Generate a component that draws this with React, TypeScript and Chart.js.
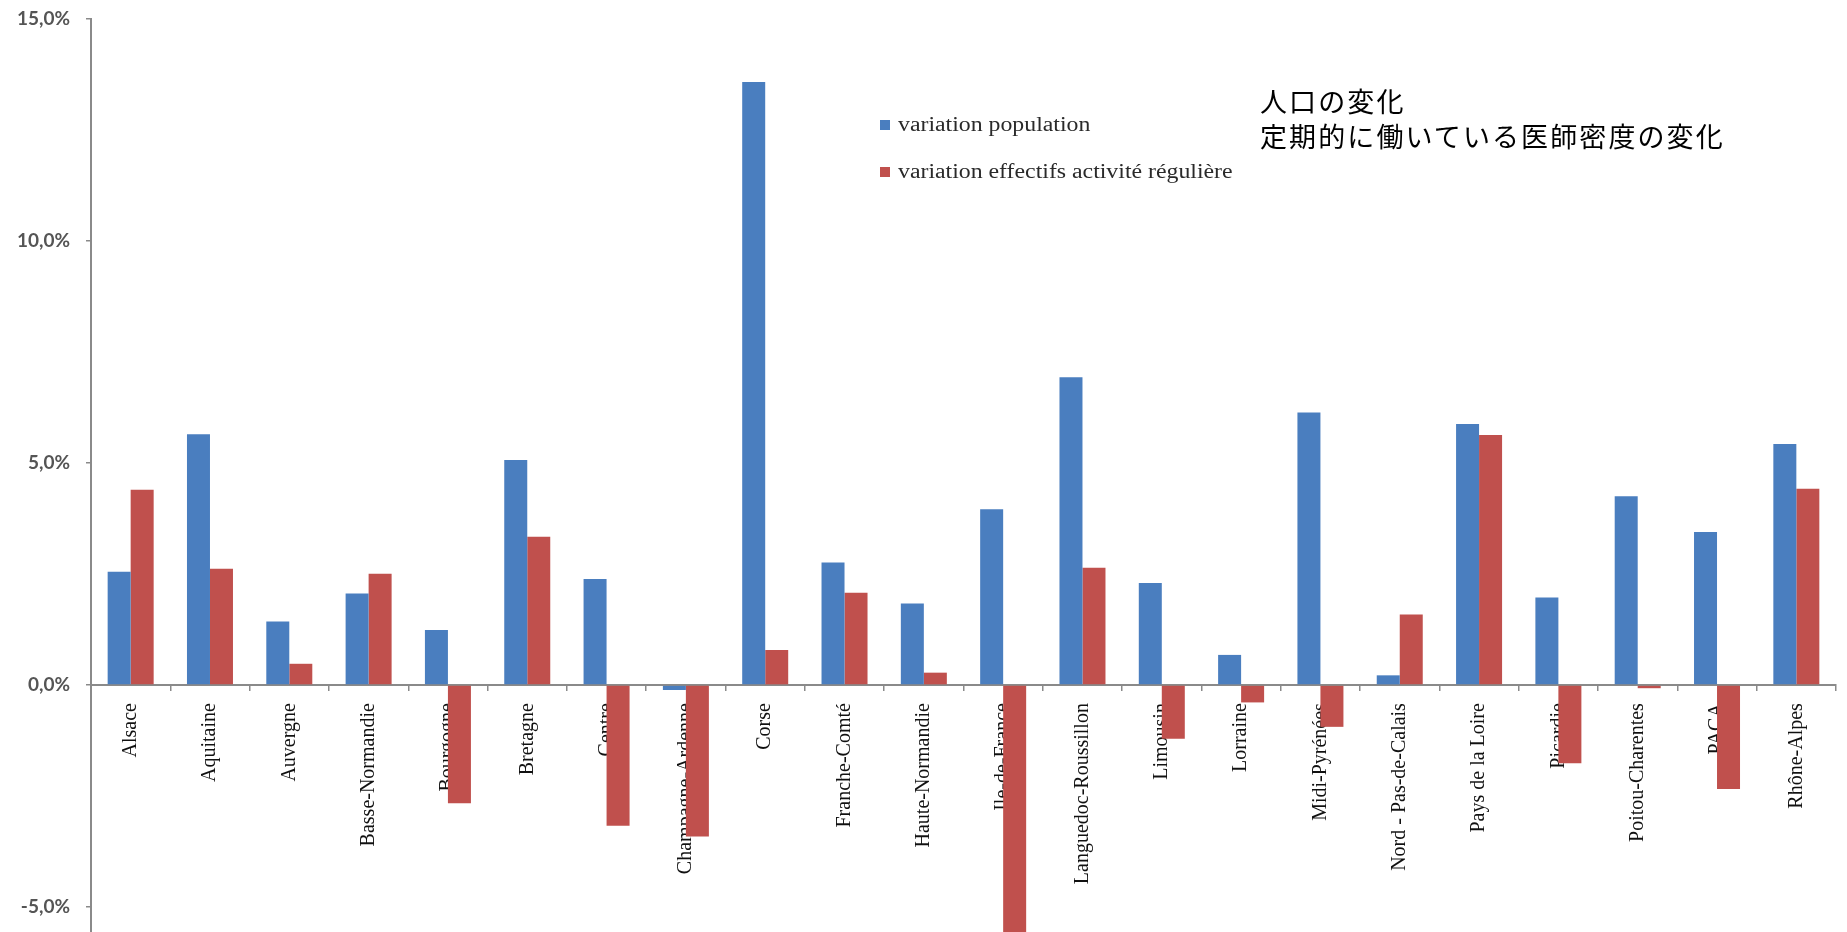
import React, { useEffect, useRef } from "react";
import { Chart, registerables } from "chart.js";

Chart.register(...registerables);

const regions: string[] = [
  "Alsace", "Aquitaine", "Auvergne", "Basse-Normandie", "Bourgogne", "Bretagne",
  "Centre", "Champagne-Ardenne", "Corse", "Franche-Comté", "Haute-Normandie",
  "Ile-de-France", "Languedoc-Roussillon", "Limousin", "Lorraine", "Midi-Pyrénées",
  "Nord - Pas-de-Calais", "Pays de la Loire", "Picardie", "Poitou-Charentes", "PACA",
  "Rhône-Alpes",
];

const variationPopulation: number[] = [
  2.55, 5.65, 1.43, 2.06, 1.24, 5.07, 2.39, -0.11, 13.58, 2.76, 1.84,
  3.96, 6.93, 2.3, 0.68, 6.14, 0.22, 5.88, 1.97, 4.25, 3.45, 5.43,
];

const variationEffectifs: number[] = [
  4.4, 2.62, 0.48, 2.51, -2.66, 3.34, -3.17, -3.41, 0.79, 2.08, 0.28,
  -6.0, 2.64, -1.21, -0.39, -0.94, 1.59, 5.63, -1.76, -0.07, -2.34, 4.42,
];

const yTickValues: number[] = [-5, 0, 5, 10, 15];

const seriesLabels: string[] = [
  "variation population",
  "variation effectifs activité régulière",
];
const japaneseLabels: string[] = ["人口の変化", "定期的に働いている医師密度の変化"];

const BLUE = "#4A7EBF";
const RED = "#C0504D";
const AXIS = "#8A8A8A";

export default function App() {
  const canvasRef = useRef<HTMLCanvasElement | null>(null);

  useEffect(() => {
    if (!canvasRef.current) return;
    const chart = new Chart(canvasRef.current, {
      type: "bar",
      data: {
        labels: regions,
        datasets: [
          {
            label: seriesLabels[0],
            data: variationPopulation,
            backgroundColor: BLUE,
            categoryPercentage: 0.58,
            barPercentage: 1.0,
          },
          {
            label: seriesLabels[1],
            data: variationEffectifs,
            backgroundColor: RED,
            categoryPercentage: 0.58,
            barPercentage: 1.0,
          },
        ],
      },
      options: {
        animation: false,
        responsive: false,
        devicePixelRatio: 1,
        layout: { padding: { top: 19, right: 11, bottom: 0, left: 0 } },
        plugins: {
          legend: { display: false },
          tooltip: { enabled: false },
        },
        scales: {
          x: {
            position: { y: 0 } as any,
            z: 1,
            grid: {
              drawOnChartArea: false,
              drawTicks: true,
              tickLength: 5,
              color: AXIS,
              lineWidth: 1.5,
              offset: true,
            },
            border: { display: true, color: AXIS, width: 2 },
            ticks: {
              autoSkip: false,
              maxRotation: 90,
              minRotation: 90,
              padding: 13,
              color: "#111",
              font: { family: "'Liberation Serif', 'DejaVu Serif', serif", size: 20 },
            },
            afterFit: (s: any) => {
              s.paddingLeft = 0;
              s.paddingRight = 0;
            },
          },
          y: {
            min: -5.56,
            max: 15,
            afterBuildTicks: (axis: any) => {
              axis.ticks = yTickValues.map((v) => ({ value: v }));
            },
            afterFit: (s: any) => {
              s.width = 91;
              s.paddingTop = 0;
              s.paddingBottom = 0;
            },
            grid: {
              drawOnChartArea: false,
              drawTicks: true,
              tickLength: 5,
              color: AXIS,
              lineWidth: 1.5,
            },
            border: { display: true, color: AXIS, width: 2 },
            ticks: {
              padding: 16,
              color: "#555555",
              font: { family: "Lato, 'Open Sans', sans-serif", size: 19, weight: "bold" },
              callback: (v: any) => Number(v).toFixed(1).replace(".", ",") + "%",
            },
          },
        },
      },
    });
    return () => chart.destroy();
  }, []);

  const legendRow = (color: string, text: string, top: number) => (
    <div
      style={{
        position: "absolute",
        left: 880,
        top,
        display: "flex",
        alignItems: "center",
        whiteSpace: "nowrap",
      }}
    >
      <div style={{ width: 10, height: 10, background: color, marginRight: 8 }} />
      <span
        style={{
          fontFamily: "'Liberation Serif', 'DejaVu Serif', serif",
          fontSize: 20,
          color: "#2a2a2a",
          display: "inline-block",
          transform: "scaleX(1.19)",
          transformOrigin: "left center",
        }}
      >
        {text}
      </span>
    </div>
  );

  return (
    <div
      style={{
        position: "absolute",
        left: 0,
        top: 0,
        width: 1847,
        height: 932,
        background: "#fff",
        overflow: "hidden",
      }}
    >
      <canvas
        ref={canvasRef}
        width={1847}
        height={932}
        style={{ width: 1847, height: 932, display: "block" }}
      />
      {legendRow(BLUE, seriesLabels[0], 113)}
      {legendRow(RED, seriesLabels[1], 160)}
      <div
        style={{
          position: "absolute",
          left: 1260,
          top: 83,
          fontFamily: "'Noto Sans CJK JP', sans-serif",
          fontSize: 27,
          lineHeight: "35px",
          color: "#000",
          letterSpacing: 2.1,
          whiteSpace: "nowrap",
        }}
      >
        <div>{japaneseLabels[0]}</div>
        <div>{japaneseLabels[1]}</div>
      </div>
    </div>
  );
}
